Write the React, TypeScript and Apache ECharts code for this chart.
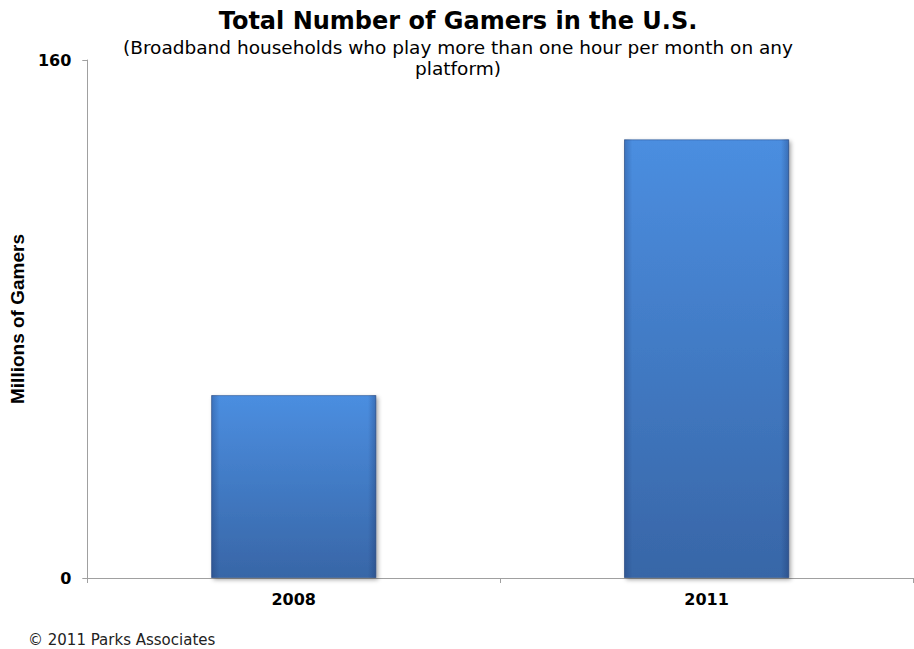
import React, { useEffect, useRef } from "react";
import * as echarts from "echarts";

const categories = ["2008", "2011"];
const gamers = [56.5, 135.5];
const yTicks = [0, 160];

const titleText = "Total Number of Gamers in the U.S.";
const subtitleText = "(Broadband households who play more than one hour per month on any\nplatform)";
const yAxisName = "Millions of Gamers";
const footerText = "© 2011 Parks Associates";

export default function App() {
  const ref = useRef<HTMLDivElement>(null);
  useEffect(() => {
    if (!ref.current) return;
    const chart = echarts.init(ref.current, undefined, { renderer: "svg" });
    chart.setOption({
      animation: false,
      backgroundColor: "#ffffff",
      title: [
        {
          text: titleText,
          left: 453,
          textAlign: "center",
          top: 4,
          textStyle: { fontFamily: "DejaVu Sans", fontWeight: "bold", fontSize: 24, color: "#000" },
        },
        {
          text: subtitleText,
          left: 453,
          textAlign: "center",
          top: 32,
          textStyle: { fontFamily: "DejaVu Sans", fontWeight: "normal", fontSize: 18.5, lineHeight: 21, color: "#000", align: "center" },
        },
      ],
      graphic: [
        {
          type: "text",
          x: 28,
          y: 640,
          style: { text: footerText, fontFamily: "DejaVu Sans", fontSize: 15, fill: "#222", verticalAlign: "middle" },
        },
      ],
      grid: { left: 68, right: 1, top: 60, bottom: 71 },
      xAxis: {
        type: "category",
        data: categories,
        axisLine: { lineStyle: { color: "#a0a0a0", width: 1 } },
        axisTick: { show: true, length: 5, alignWithLabel: false, lineStyle: { color: "#a0a0a0" } },
        axisLabel: { fontFamily: "DejaVu Sans", fontWeight: "bold", fontSize: 16, color: "#000", margin: 13 },
      },
      yAxis: {
        type: "value",
        min: yTicks[0],
        max: yTicks[1],
        interval: yTicks[1] - yTicks[0],
        name: yAxisName,
        nameLocation: "middle",
        nameGap: 40,
        nameTextStyle: { fontFamily: "Liberation Sans", fontWeight: "bold", fontSize: 19, color: "#000" },
        axisLine: { show: true, lineStyle: { color: "#a0a0a0", width: 1 } },
        axisTick: { show: true, length: 5, lineStyle: { color: "#a0a0a0" } },
        splitLine: { show: false },
        axisLabel: { fontFamily: "DejaVu Sans", fontWeight: "bold", fontSize: 16, color: "#000", margin: 16 },
      },
      series: [
        {
          type: "bar",
          data: gamers,
          barWidth: "40%",
          barGap: "-100%",
          itemStyle: {
            color: new echarts.graphic.LinearGradient(0, 0, 0, 1, [
              { offset: 0, color: "#4b8ee0" },
              { offset: 1, color: "#3866a7" },
            ]),
            borderColor: "rgba(40,80,140,0.55)",
            borderWidth: 1,
            shadowColor: "rgba(0,0,0,0.35)",
            shadowBlur: 4,
            shadowOffsetX: 2,
            shadowOffsetY: 2,
          },
        },
        {
          type: "bar",
          data: gamers,
          barWidth: "40%",
          barGap: "-100%",
          silent: true,
          itemStyle: {
            color: new echarts.graphic.LinearGradient(0, 0, 1, 0, [
              { offset: 0, color: "rgba(20,40,90,0.28)" },
              { offset: 0.05, color: "rgba(20,40,90,0)" },
              { offset: 0.95, color: "rgba(20,40,90,0)" },
              { offset: 1, color: "rgba(20,40,90,0.32)" },
            ]),
          },
        },
      ],
    });
    return () => chart.dispose();
  }, []);
  return <div ref={ref} style={{ position: "absolute", left: 0, top: 0, width: 914, height: 649 }} />;
}
